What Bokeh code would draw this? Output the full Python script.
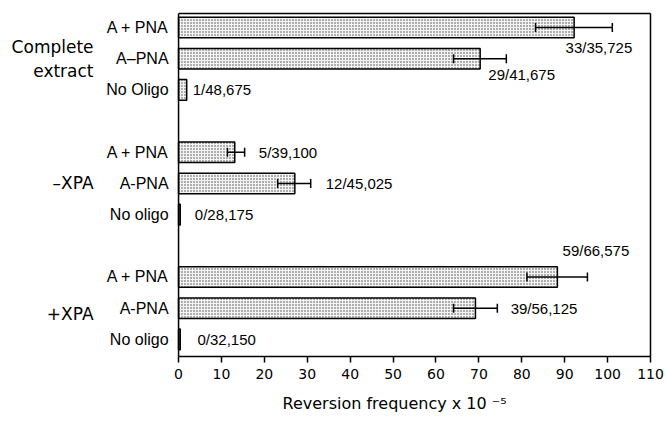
from bokeh.plotting import figure
from bokeh.models import (ColumnDataSource, Range1d, FixedTicker, Whisker,
                          TeeHead, LinearAxis, Span, Title)
from bokeh.core.properties import value
from bokeh.embed import file_html
from bokeh.resources import INLINE

# ---- data ----
groups = ["Complete\nextract", "\u2013XPA", "+XPA"]
conditions = ["A + PNA", "A\u2013PNA", "No Oligo",
              "A + PNA", "A-PNA", "No oligo",
              "A + PNA", "A-PNA", "No oligo"]
freq = [92.2, 70.3, 1.9, 13.1, 27.1, 0.4, 88.3, 69.2, 0.4]
err_low = [83.2, 64.1, None, 11.4, 23.1, None, 81.2, 64.1, None]
err_high = [101.1, 76.4, None, 15.4, 30.8, None, 95.3, 74.3, None]
counts = ["33/35,725", "29/41,675", "1/48,675",
          "5/39,100", "12/45,025", "0/28,175",
          "59/66,575", "39/56,125", "0/32,150"]
x_ticks = list(range(0, 111, 10))
x_max = 110
x_title = "Reversion frequency x 10 \u207b\u2075"

# ---- layout helpers (placement only) ----
rows_per_group = 3
group_gap = 1
ypos = [g * (rows_per_group + group_gap) + i
        for g in range(len(groups)) for i in range(rows_per_group)]
lbl_dx = [-10.9, -4.2, 1.4, 3.3, 3.5, 3.4, -5.8, 3.1, 4.0]
lbl_dy = [0.65, 0.52, 0, 0, 0, 0, -0.86, 0, 0]
grp_y = [1, 5, 9.2]

ends = [h if h is not None else v for v, h in zip(freq, err_high)]
bar_src = ColumnDataSource(dict(y=ypos, v=freq))
err_rows = [i for i in range(len(freq)) if err_low[i] is not None]
err_src = ColumnDataSource(dict(y=[ypos[i] for i in err_rows],
                                lo=[err_low[i] for i in err_rows],
                                hi=[err_high[i] for i in err_rows]))
lbl_src = ColumnDataSource(dict(x=[e + d for e, d in zip(ends, lbl_dx)],
                                y=[y + d for y, d in zip(ypos, lbl_dy)],
                                t=counts))
cond_src = ColumnDataSource(dict(x=[0] * len(ypos), y=ypos, t=conditions))
grp_src = ColumnDataSource(dict(x=[0] * len(groups), y=grp_y, t=groups))

p = figure(width=666, height=422, output_backend="svg", toolbar_location=None,
           x_range=Range1d(-41.5, x_max), y_range=Range1d(10.55, -0.45),
           x_axis_type=None, y_axis_type=None,
           min_border_left=0, min_border_right=16, min_border_top=13,
           min_border_bottom=10)
p.background_fill_color = "white"
p.border_fill_color = "white"
p.outline_line_color = None
p.xgrid.visible = False
p.ygrid.visible = False

p.hbar(y="y", left=0, right="v", height=0.66, source=bar_src,
       fill_color="#f4f4f4", line_color="black", line_width=1.5,
       hatch_pattern="dot", hatch_color="#444444", hatch_scale=3,
       hatch_weight=1)

wh = Whisker(source=err_src, base="y", lower="lo", upper="hi",
             dimension="width", line_color="black", line_width=1.5,
             lower_head=TeeHead(size=9, line_width=1.5, line_color="black"),
             upper_head=TeeHead(size=9, line_width=1.5, line_color="black"),
             level="annotation")
p.add_layout(wh)

p.text(x="x", y="y", text="t", source=lbl_src,
       text_font=value("Liberation Sans"), text_font_size="15px",
       text_color="black", text_align="left", text_baseline="middle")

# row labels and group labels
p.text(x="x", y="y", text="t", source=cond_src, x_offset=-10,
       text_font=value("Liberation Sans"), text_font_size="16px",
       text_color="black", text_align="right", text_baseline="middle")
p.text(x="x", y="y", text="t", source=grp_src, x_offset=-85,
       text_font=value("DejaVu Sans"), text_font_size="17px",
       text_color="black", text_align="right", text_baseline="middle",
       text_line_height=1.2)

# left axis line at x = 0
p.add_layout(Span(location=0, dimension="height", line_color="black",
                  line_width=1.5))

# x axis
xa = LinearAxis(bounds=(0, x_max))
xa.ticker = FixedTicker(ticks=x_ticks)
xa.axis_line_width = 1.5
xa.major_tick_line_width = 1.5
xa.major_tick_out = 6
xa.major_tick_in = 0
xa.minor_tick_out = 0
xa.minor_tick_in = 0
xa.major_label_standoff = 6
xa.major_label_text_font = "DejaVu Sans"
xa.major_label_text_font_size = "14px"
xa.major_label_text_color = "black"
p.add_layout(xa, "below")

p.add_layout(Title(text=x_title, align="left", offset=282, standoff=20,
                   text_font="DejaVu Sans", text_font_size="16px",
                   text_font_style="normal", text_color="black"), "below")

# top and right frame lines
top = LinearAxis(bounds=(0, x_max), ticker=FixedTicker(ticks=[]),
                 axis_line_width=1.5, major_label_text_alpha=0)
p.add_layout(top, "above")
right = LinearAxis(ticker=FixedTicker(ticks=[]), axis_line_width=1.5,
                   major_label_text_alpha=0)
p.add_layout(right, "right")

open("out.html", "w").write(file_html(p, INLINE))
